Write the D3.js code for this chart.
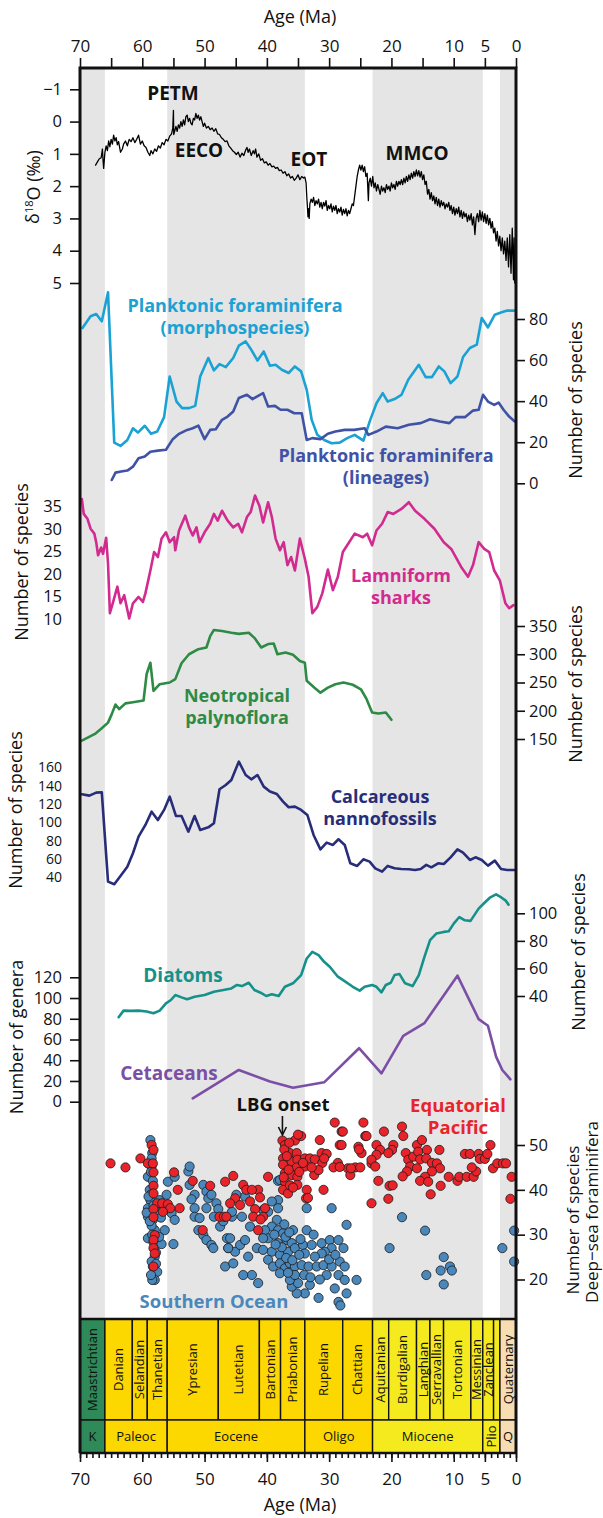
<!DOCTYPE html>
<html>
<head>
<meta charset="utf-8">
<script src="https://cdn.jsdelivr.net/npm/d3@7"></script>
<style>
  body { margin: 0; background: #fff; }
  svg { display: block; font-family: "Open Sans", sans-serif; }
</style>
</head>
<body>
<div id="chart"></div>
<script>
// ---- data (age in Ma, value) ----
const d18O = [[67.5,1.35],[67.2,1.25],[66.9,1.15],[66.6,1.12],[66.4,0.85],[66.3,1.2],[66.2,1.45],[66.0,0.95],[65.8,0.75],[65.6,0.9],[65.4,0.6],[65.2,0.78],[65.0,0.55],[64.8,0.7],[64.6,0.42],[64.4,0.6],[64.2,0.5],[64.0,0.72],[63.8,0.62],[63.5,0.95],[63.2,0.85],[63.0,0.7],[62.7,0.6],[62.4,0.75],[62.1,0.55],[61.8,0.62],[61.5,0.5],[61.2,0.65],[60.9,0.55],[60.6,0.42],[60.3,0.7],[60.0,0.6],[59.7,0.75],[59.4,0.8],[59.1,0.95],[58.8,1.05],[58.6,0.9],[58.3,1.0],[58.0,0.85],[57.7,0.92],[57.4,0.75],[57.1,0.82],[56.8,0.65],[56.5,0.72],[56.2,0.55],[55.9,0.6],[55.6,0.45],[55.3,0.38],[55.1,0.2],[55.0,-0.35],[54.95,0.4],[54.8,0.3],[54.6,0.15],[54.4,0.3],[54.2,0.1],[54.0,0.2],[53.8,0.0],[53.6,0.15],[53.4,-0.05],[53.2,0.1],[53.0,-0.15],[52.8,-0.2],[52.6,0.0],[52.4,-0.1],[52.2,0.05],[52.0,0.1],[51.8,-0.1],[51.6,-0.05],[51.4,-0.25],[51.2,-0.1],[51.0,-0.2],[50.8,-0.05],[50.6,-0.15],[50.4,0.0],[50.2,0.15],[50.0,0.05],[49.7,0.2],[49.4,0.15],[49.1,0.25],[48.8,0.2],[48.5,0.3],[48.2,0.22],[47.9,0.38],[47.6,0.4],[47.3,0.5],[47.0,0.55],[46.7,0.62],[46.4,0.6],[46.1,0.75],[45.8,0.82],[45.5,0.9],[45.2,0.95],[44.9,1.02],[44.6,0.95],[44.3,1.1],[44.0,0.98],[43.7,1.05],[43.4,0.88],[43.2,0.8],[43.0,0.95],[42.8,0.85],[42.5,1.05],[42.2,0.9],[42.0,1.0],[41.8,0.85],[41.6,1.1],[41.3,1.0],[41.0,1.2],[40.7,1.15],[40.4,1.28],[40.1,1.25],[39.8,1.35],[39.5,1.3],[39.2,1.4],[38.9,1.38],[38.6,1.45],[38.3,1.42],[38.0,1.52],[37.7,1.5],[37.4,1.6],[37.1,1.55],[36.8,1.68],[36.5,1.62],[36.2,1.75],[35.9,1.7],[35.6,1.82],[35.3,1.75],[35.0,1.65],[34.7,1.8],[34.4,1.7],[34.1,1.75],[33.9,1.72],[33.7,1.9],[33.6,2.3],[33.5,2.6],[33.4,2.95],[33.3,2.7],[33.2,3.0],[33.1,2.55],[32.9,2.4],[32.7,2.5],[32.5,2.35],[32.3,2.6],[32.1,2.45],[31.9,2.55],[31.7,2.4],[31.5,2.65],[31.3,2.5],[31.1,2.7],[30.9,2.5],[30.7,2.62],[30.5,2.45],[30.3,2.75],[30.1,2.6],[29.9,2.7],[29.7,2.55],[29.5,2.8],[29.3,2.62],[29.1,2.75],[28.9,2.6],[28.7,2.85],[28.5,2.7],[28.3,2.8],[28.1,2.65],[27.9,2.9],[27.7,2.72],[27.5,2.85],[27.3,2.7],[27.1,2.92],[26.9,2.75],[26.7,2.85],[26.5,2.7],[26.3,2.55],[26.1,2.6],[25.9,2.3],[25.7,2.0],[25.5,1.7],[25.3,1.5],[25.1,1.35],[24.9,1.5],[24.7,1.35],[24.5,1.55],[24.3,1.4],[24.1,1.7],[23.9,1.6],[23.7,2.45],[23.6,1.9],[23.4,1.75],[23.2,2.0],[23.0,1.7],[22.8,2.05],[22.6,1.9],[22.4,2.15],[22.2,1.95],[22.0,2.1],[21.8,2.25],[21.6,2.0],[21.4,2.15],[21.2,2.05],[21.0,2.2],[20.8,1.95],[20.6,2.1],[20.4,2.0],[20.2,2.15],[20.0,1.9],[19.8,2.05],[19.6,1.95],[19.4,2.1],[19.2,1.85],[19.0,2.0],[18.8,1.85],[18.6,1.95],[18.4,1.8],[18.2,1.95],[18.0,1.75],[17.8,1.9],[17.6,1.7],[17.4,1.85],[17.2,1.65],[17.0,1.8],[16.8,1.6],[16.6,1.75],[16.4,1.55],[16.2,1.7],[16.0,1.5],[15.8,1.68],[15.6,1.52],[15.4,1.72],[15.2,1.55],[15.0,1.8],[14.8,1.65],[14.6,1.95],[14.4,1.85],[14.2,2.25],[14.0,2.1],[13.8,2.4],[13.6,2.2],[13.4,2.45],[13.2,2.3],[13.0,2.55],[12.8,2.35],[12.6,2.6],[12.4,2.4],[12.2,2.65],[12.0,2.45],[11.8,2.6],[11.6,2.5],[11.4,2.7],[11.2,2.55],[11.0,2.65],[10.8,2.5],[10.6,2.75],[10.4,2.6],[10.2,2.85],[10.0,2.65],[9.8,2.9],[9.6,2.7],[9.4,2.85],[9.2,2.65],[9.0,2.95],[8.8,2.75],[8.6,3.0],[8.4,2.8],[8.2,2.95],[8.0,2.85],[7.8,3.1],[7.6,2.9],[7.4,3.05],[7.2,2.85],[7.0,3.2],[6.8,2.95],[6.6,3.5],[6.4,3.0],[6.2,2.85],[6.0,3.1],[5.8,2.75],[5.6,3.05],[5.4,2.8],[5.2,3.1],[5.0,2.85],[4.8,3.15],[4.6,2.9],[4.4,3.2],[4.2,3.0],[4.0,3.3],[3.8,3.1],[3.6,3.45],[3.4,3.3],[3.2,3.7],[3.0,3.4],[2.8,3.85],[2.6,3.55],[2.4,4.0],[2.2,3.6],[2.0,4.1],[1.8,3.7],[1.6,4.3],[1.4,3.6],[1.2,4.5],[1.0,3.5],[0.8,4.7],[0.6,3.3],[0.4,4.9],[0.3,3.6],[0.2,5.0],[0.1,4.0],[0.05,5.05]];

const foramMorpho = [[69.6,75.6],[68.3,81.3],[67.4,82.4],[66.5,78.9],[65.5,93],[64.5,19.8],[63.5,18.2],[62.4,21.1],[61.5,26.8],[60.7,24.7],[59.6,28],[58.6,24.1],[57.6,25.2],[56.5,32.2],[55.6,52],[54.5,39.8],[53.6,36.6],[52.5,36.6],[51.5,37.7],[50.7,52],[49.4,61],[48.5,55],[47.6,58],[46.6,56.6],[45.4,61],[44.5,67],[43.4,69.1],[42.5,65],[41.5,59.8],[40.5,64.2],[39.5,57.2],[38.6,57.7],[37.6,55.3],[36.5,53.7],[35.5,56.9],[34.5,54.5],[33.6,45.5],[32.8,30.9],[31.9,23.6],[30.8,21.1],[29.6,19.5],[28.3,19.8],[27.1,22],[25.9,23.6],[24.5,20.8],[23.4,30.9],[22.4,39],[21.4,43.9],[20.6,39.8],[19.5,41],[18.4,43],[17.3,50.4],[15.6,57.7],[14.5,51.7],[13.5,51.7],[12.4,56.9],[11.5,54.5],[10.5,48.8],[9.4,52],[8.5,61.5],[7.4,65.9],[6.3,67.5],[5.5,80.5],[4.5,75.9],[3.4,82.1],[2.3,83.3],[1.4,84.1],[0.1,84.1]];

const foramLineages = [[64.9,1.6],[64.3,5.2],[63.4,5.7],[62.4,6.2],[61.5,8.1],[60.6,12.2],[59.6,13],[58.7,15.4],[57.5,15.9],[56.2,16.3],[55.1,21.5],[54.1,24.1],[52.8,26],[51.9,26.8],[51.0,28.1],[50.0,21.5],[49.1,26],[48.2,26.3],[47.2,30.9],[46.3,32.5],[45.4,35],[44.5,41.5],[43.2,43.1],[42.3,41],[41.4,42.6],[40.6,43.9],[39.8,37.4],[38.7,37.7],[37.8,35.8],[36.7,35.8],[35.6,34.1],[34.4,34.1],[33.6,21.1],[32.7,22],[31.4,21.5],[30.2,24.1],[29.0,25.2],[27.5,26],[26.0,26],[24.3,26.8],[23.7,23.6],[22.4,25.2],[20.9,27.6],[19.0,26.8],[17.2,28.5],[15.3,29.3],[13.8,31.2],[12.2,30.1],[10.7,29.3],[9.7,32.2],[8.2,32.2],[6.9,35.4],[6.0,35.8],[5.3,43.1],[4.5,39.8],[3.5,38.2],[2.8,39.3],[2.0,35.8],[1.1,32.5],[0.2,30.1]];

const sharks = [[69.7,36.7],[69.4,33.4],[68.8,32.3],[68.3,30.1],[67.7,29],[67.4,27.1],[67.1,24.2],[66.6,25.9],[66.3,24.5],[65.8,28.1],[65.5,22.3],[65.2,11.3],[64.6,14.2],[64.0,17.2],[63.5,13.5],[62.9,15.3],[62.1,10.1],[61.5,13.5],[60.6,14.9],[59.9,13.8],[59.5,15.7],[58.7,20.8],[58.1,24.9],[57.5,23.8],[56.9,27.9],[56.2,29.3],[55.6,27.1],[54.9,28.2],[54.7,25.3],[54.1,29.7],[53.1,33],[52.5,30.4],[51.9,28.6],[51.3,30.4],[50.8,27.1],[50.0,29.3],[49.1,31.2],[48.5,33.4],[47.9,31.9],[47.2,34.1],[46.3,31.9],[45.4,30.4],[44.6,31.2],[44.0,29.3],[43.2,32.7],[42.6,33.8],[41.9,37.5],[41.2,35.2],[40.6,31.5],[39.8,36],[39.2,32.7],[38.6,27.9],[37.9,25.3],[37.3,27.1],[36.7,22],[36.1,23.8],[35.5,20.8],[34.7,27.9],[33.9,23.4],[33.3,19.4],[32.7,11.3],[31.9,12.7],[31.1,15.7],[30.2,21],[29.4,16.4],[28.6,19.4],[27.8,24.9],[27.1,26.4],[25.9,29],[24.6,28.2],[23.9,29],[23.1,26.4],[22.4,29.7],[21.5,31.2],[20.6,33.8],[19.7,33.4],[18.4,34.5],[17.2,36],[16.2,34.1],[14.7,32.3],[13.1,30.1],[11.6,27.1],[10.4,25.6],[8.8,21.6],[7.7,19.4],[6.9,22],[6.0,27.1],[5.1,25.6],[4.3,24.9],[3.5,20.8],[2.6,18.6],[1.7,13.5],[1.1,12.4],[0.4,13.1]];

const palynoflora = [[69.7,147],[67.6,159],[66.6,168],[65.5,179],[64.9,194],[64.3,211],[63.7,203],[62.7,213],[61.5,215],[59.8,218],[59.3,265],[58.7,285],[58.2,235],[57.2,247],[55.6,250],[54.7,256],[53.7,284],[52.5,300],[51.0,309],[49.7,312],[49.1,332],[48.5,343],[47.2,341],[45.7,338],[44.5,336],[42.9,338],[42.0,329],[40.9,312],[39.8,318],[38.9,319],[38.3,300],[37.0,303],[35.8,299],[34.7,288],[33.9,285],[33.6,253],[32.4,241],[31.4,232],[30.2,241],[29.0,247],[27.7,250],[26.2,246],[24.9,238],[24.0,221],[23.1,197],[22.1,195],[20.9,197],[20.0,184]];

const nannofossils = [[69.7,130.5],[68.5,129.1],[67.4,132.4],[66.5,132.7],[65.5,35.3],[64.5,32.4],[63.5,41.5],[62.4,51.6],[61.5,66.2],[60.6,84.4],[59.5,97.1],[58.5,111.6],[57.5,102.5],[56.5,113.5],[55.6,128],[54.6,106.9],[53.7,106.9],[52.6,89.8],[51.6,106.9],[50.7,91.6],[49.4,94.5],[48.5,98.9],[47.6,136],[46.6,140.7],[45.7,146.2],[44.5,166.2],[43.4,151.6],[42.5,146.9],[41.5,151.6],[40.5,138.9],[39.5,133.5],[38.4,130.9],[37.4,122.5],[36.5,116.4],[35.5,117.1],[34.5,113.5],[33.5,108],[32.5,86.2],[31.4,70.5],[30.4,77.8],[29.4,75.3],[28.5,81.5],[27.5,75.3],[26.6,55.3],[25.5,52.4],[24.5,59.6],[23.5,57.1],[22.6,49.8],[21.5,46.2],[20.6,52.4],[19.5,49.8],[18.4,49.1],[17.2,48.7],[16.2,48],[15.3,49.1],[14.4,53.5],[13.6,50.9],[12.5,55.3],[11.6,54.5],[10.5,61.8],[9.4,70.5],[8.5,66.9],[7.4,58.9],[6.5,61.8],[5.5,58.9],[4.5,52.7],[3.4,58.2],[2.4,49.1],[1.4,48],[0.2,48]];

const diatoms = [[63.8,24.6],[63.0,29.4],[61.8,29.2],[60.6,29.4],[59.3,28.7],[58.2,27.5],[57.2,29.4],[56.2,34.7],[55.4,37.1],[54.7,40.7],[53.7,39],[52.8,37.6],[51.6,39.5],[50.0,40.7],[48.5,43.1],[47.0,44.3],[45.7,45.5],[44.8,48],[44.0,47.2],[42.9,49.6],[42.0,44.3],[41.0,42.4],[40.1,40],[39.2,41.2],[38.1,40],[37.1,46.7],[35.8,49.2],[34.5,55.2],[33.6,67.2],[32.7,72],[31.7,69.6],[30.8,64.8],[29.9,61.2],[28.6,54],[27.4,50.4],[26.2,46.7],[25.1,43.9],[24.3,46.7],[23.1,48],[22.4,46.7],[21.6,42.7],[20.9,48],[20.1,49.6],[19.5,55.2],[18.7,55.9],[17.8,49.2],[16.6,47.2],[15.6,55.2],[14.7,68.4],[13.8,80.5],[12.8,85.3],[11.6,86.5],[10.8,87],[10.0,92.5],[9.1,97.3],[8.2,94.9],[7.3,94.5],[6.0,103.4],[5.1,107.5],[4.2,111.3],[3.2,113.7],[2.3,111.3],[1.7,109.4],[1.2,106.3]];

const cetaceans = [[51.9,3.2],[44.5,30.6],[39.5,19.4],[35.8,13.5],[30.8,18.7],[25.2,51.6],[21.6,27.4],[18.1,63.5],[14.7,75.8],[9.4,121.6],[6.0,79.7],[4.5,73.2],[3.2,43.5],[2.2,30.6],[0.9,21.6]];

const southernOcean = [[58.7,51.1],[58.4,48.2],[58.5,45.2],[59.1,42.9],[58.8,40],[58.7,37.7],[59.1,35.9],[59.1,34],[58.3,33.3],[58.0,31],[59.1,29.2],[58.0,27.3],[58.0,25.1],[58.3,22.9],[57.6,21.7],[58.0,19.9],[58.4,19.9],[58.5,47],[58.6,44],[58.3,42],[58.6,39],[58.2,36.5],[58.5,32],[58.4,30],[58.2,28.3],[57.8,26],[58.5,24],[57.8,23.5],[58.6,21],[59.0,38.5],[59.3,34.9],[58.8,33],
  [57.2,37.7],[56.9,36.6],[56.1,38.9],[55.9,41.8],[54.8,42.9],[55.3,34.8],[54.8,33.3],[56.4,31],[55.0,27.9],[56.9,27.9],[57.5,35],[56.5,35.5],[55.8,36.2],[57.0,33.8],[57.3,29.5],
  [52.6,44.1],[52.4,45.2],[52.4,41.1],[51.6,38.9],[52.1,37.9],[51.6,35.9],[51.6,34],[50.8,33.7],[51.0,31],[50.2,29.9],[49.7,28.8],[48.9,27.7],[48.6,27],[50.2,41.1],[49.7,39.6],[49.4,38.1],[48.9,38.9],[49.7,35.9],[48.1,37],[47.8,35.7],[47.5,31.8],[46.4,29.2],[46.2,27],[46.7,22.9],[48.5,34],[47.0,33],
  [38.2,42],[37.9,42.2],[38.2,37.7],[39.2,37.4],[39.8,35.1],[38.4,33.3],[39.2,31.8],[40.3,31],[39.8,29.2],[38.2,31],[37.4,30.3],[35.8,31],[40.6,29.2],[38.2,28.1],[36.8,28.8],[36.0,28.1],[41.6,27],[40.6,26.6],[39.2,26.2],[37.9,25.5],[36.6,26.2],[35.5,27],[34.2,27.7],[33.9,25.8],[32.8,27.7],[31.2,28.1],[29.9,28.8],[28.5,28.8],[29.6,27],[30.7,26.2],[31.2,25.8],[32.3,25.1],[27.7,27],[27.2,32.2],[29.6,35.9],[33.6,35.9],[33.6,31],[39.8,24.4],[39.0,22.9],[37.9,23.6],[37.1,22.5],[36.3,23.6],[35.5,22.9],[34.4,23.2],[33.3,22.9],[32.0,22.9],[30.9,23.2],[29.6,22.9],[28.3,24],[27.5,22.9],[30.4,21],[28.5,21],[25.6,19.9],[27.5,19.9],[29.1,18],[27.2,16.9],[28.5,15],[28.2,14.2],[31.7,15.9],[33.9,16.9],[35.2,16.9],[36.0,18.4],[35.0,19.2],[33.1,18.8],[36.3,19.9],[37.9,21.4],[35.5,21],[34.0,21],[41.4,19.2],[42.4,21],[43.8,21],[45.4,23.6],[43.0,25.1],[45.1,26.2],[46.2,27],[44.3,27.7],[45.9,29.2],[43.5,28.8],[42.7,31.8],[45.6,34],[44.0,34],[45.6,35.1],[40.6,35.5],[43.5,38.5],[44.9,38.9],[38.2,35.9],[38.8,30],[37.0,29.5],[36.4,30.5],[37.6,27.2],[36.9,24.8],[35.9,24.3],[34.8,25.5],[38.6,27.8],[37.2,32.3],[36.6,21.5],[33.0,20.5],[31.5,20],[30.0,24.5],[29.0,25.5],[32.5,30],[34.6,29],
  [18.3,33.9],[14.6,30.9],[20.3,27],[11.6,25],[10.6,22.9],[10.3,22],[12.1,22],[14.4,21],[11.6,18.9],[2.2,27],[0.3,30.9],[0.3,24]];

const equatorialPacific = [[65.1,45.9],[62.7,45],[60.3,47],[59.1,45.9],[58.5,50],[58.2,48.9],[58.3,45.9],[58.2,43.9],[58.2,40.9],[58.2,39.2],[57.6,37],[56.8,37],[55.9,36.8],[54.9,43.9],[54.3,40],[54.0,35.9],[55.5,35.9],[56.7,35.1],[58.2,35.7],[58.2,33.9],[58.0,29.9],[58.2,28.8],[58.2,27],[58.0,25.8],[58.2,22.9],[51.9,42],[49.1,40.9],[50.3,31],[47.6,34],[46.9,34],
  [37.5,51],[37.1,50],[35.5,51],[34.5,52],[36.3,48.2],[35.2,48.2],[37.4,47],[37.4,45.6],[36.0,46.3],[35.1,46.7],[33.9,47],[33.1,47],[32.3,46.8],[31.2,48.2],[30.4,48],[31.1,46],[33.9,45.2],[35.2,45],[37.1,43.7],[36.0,43.3],[35.1,42.9],[37.1,41.8],[35.1,41.1],[33.6,40],[37.4,40],[36.6,39.2],[33.7,38.1],[32.4,43.3],[31.7,44.4],[28.6,46],[29.3,45],[39.8,42.9],[45.4,43.1],[46.7,41.8],[43.8,41.1],[43.3,40],[41.4,40],[42.4,40],[41.1,38.3],[45.1,38.1],[45.9,37],[44.3,36.6],[42.7,37.4],[41.9,35.7],[40.3,35.9],[42.2,34],[40.6,34],[41.0,33.4],[41.4,31],[46.5,34],[28.0,53],[29.1,55],[24.5,55],[24.2,52],[25.3,49.6],[24.8,48.2],[28.3,50],[27.0,44.8],[26.6,43.3],[25.8,45],[25.0,45],[23.2,45.9],[23.2,37],[37.2,49],[36.8,47.5],[36.5,44.5],[37.3,42.8],[36.3,41],[35.8,40.5],[34.8,44],[34.2,46],[32.8,45],[30.8,47],[36.4,50.5],[35.0,52.3],[31.5,51.1],[27.8,53],[28.0,50],[24.0,52],[25.2,49],[26.5,44.8],[28.3,45.1],[30.9,40],[33.4,38.2],
  [18.3,54.1],[21.2,53],[18.1,52],[22.4,50],[21.8,48.9],[19.7,50],[19.9,48.9],[20.5,48.2],[22.4,47.8],[23.2,46.7],[22.6,45.2],[22.1,42],[20.3,40.9],[20.5,38],[19.8,41],[17.7,48.2],[17.3,46.7],[16.5,47.4],[15.9,50],[15.1,51.1],[15.7,48.5],[17.0,45.2],[17.5,44.1],[18.2,43],[15.4,46.8],[14.3,48.9],[14.4,47],[13.5,46],[12.7,45.9],[12.3,48.9],[12.2,44.8],[13.5,44.1],[15.9,44.8],[14.6,42.9],[15.4,42],[14.1,41.8],[12.1,40.9],[13.7,39],[10.8,42.9],[9.4,42],[9.1,42.9],[7.9,42.9],[6.8,42.9],[6.4,44.1],[7.1,45],[8.2,48],[7.4,48],[6.0,48],[5.8,46.9],[5.0,46.9],[4.6,48],[4.1,50],[3.7,44.8],[3.0,45.9],[2.1,45.9],[1.6,45.9],[0.7,42.9],[0.9,38]];

// ---- geologic timescale ----
const stageNames = ['Maastrichtian','Danian','Selandian','Thanetian','Ypresian','Lutetian','Bartonian','Priabonian','Rupelian','Chattian','Aquitanian','Burdigalian','Langhian','Serravallian','Tortonian','Messinian','Zanclean','','Quaternary'];
const stageBounds = [70,66,61.6,59.2,56,47.8,41.2,37.8,33.9,27.82,23.03,20.44,15.97,13.82,11.63,7.246,5.333,3.6,2.58,0];
const epochNames = ['K','Paleoc','Eocene','Oligo','Miocene','Plio','Q'];
const epochBounds = [70,66,56,33.9,23.03,5.333,2.58,0];
const shadedBands = [[70,66],[56,33.9],[23.03,5.333],[2.58,0]];

// ---- ticks ----
const ageTicks = [70,60,50,40,30,20,10,5,0];
const d18OTicks = [-1,0,1,2,3,4,5];
const foramTicks = [0,20,40,60,80];
const sharkTicks = [10,15,20,25,30,35];
const palynoTicks = [150,200,250,300,350];
const nannoTicks = [40,60,80,100,120,140,160];
const diatomTicks = [40,60,80,100];
const cetaceanTicks = [0,20,40,60,80,100,120];
const deepSeaTicks = [20,30,40,50];

// ---- layout ----
const W = 603, H = 1518;
const plotL = 80, plotR = 516, plotT = 68;
const tsTop = 1319, tsMid = 1420, tsBot = 1453;
const font = '"Open Sans", sans-serif';
const ink = '#111';

const x = d3.scaleLinear().domain([70, 0]).range([plotL, plotR]);

const yD18O = d3.scaleLinear().domain([-1, 5]).range([89.3, 283]);
const yForam = d3.scaleLinear().domain([0, 80]).range([483.3, 319]);
const yShark = d3.scaleLinear().domain([10, 35]).range([619, 506.7]);
const yPaly = d3.scaleLinear().domain([150, 350]).range([739, 626]);
const yNanno = d3.scaleLinear().domain([40, 160]).range([877.3, 767.3]);
const yDiatom = d3.scaleLinear().domain([40, 100]).range([996, 913.3]);
const yCet = d3.scaleLinear().domain([0, 120]).range([1101.7, 977.3]);
const yDeep = d3.scaleLinear().domain([20, 50]).range([1279.5, 1145]);

const svg = d3.select('#chart').append('svg')
  .attr('width', W)
  .attr('height', H);

svg.append('rect').attr('width', W).attr('height', H).attr('fill', '#fff');

// grey bands
svg.append('g').selectAll('rect')
  .data(shadedBands)
  .enter().append('rect')
  .attr('x', d => x(d[0]))
  .attr('width', d => x(d[1]) - x(d[0]))
  .attr('y', plotT)
  .attr('height', tsTop - plotT)
  .attr('fill', '#e5e5e5');

function drawLine(data, y, color, w) {
  const line = d3.line()
    .x(d => x(d[0]))
    .y(d => y(d[1]));
  svg.append('path')
    .datum(data)
    .attr('d', line)
    .attr('fill', 'none')
    .attr('stroke', color)
    .attr('stroke-width', w)
    .attr('stroke-linejoin', 'round')
    .attr('stroke-linecap', 'round');
}

drawLine(d18O, yD18O, '#000', 1.3);
drawLine(foramMorpho, yForam, '#1ba2d4', 2.6);
drawLine(foramLineages, yForam, '#3f52a5', 2.6);
drawLine(sharks, yShark, '#d22b8f', 2.6);
drawLine(palynoflora, yPaly, '#2e8b45', 2.6);
drawLine(nannofossils, yNanno, '#272d78', 2.6);
drawLine(diatoms, yDiatom, '#16918a', 2.6);
drawLine(cetaceans, yCet, '#7c4fa6', 2.6);

// deep-sea foraminifera
function drawDots(data, color) {
  svg.append('g').selectAll('circle')
    .data(data)
    .enter().append('circle')
    .attr('cx', d => x(d[0]))
    .attr('cy', d => yDeep(d[1]))
    .attr('r', 4.6)
    .attr('fill', color)
    .attr('stroke', '#1a1a1a')
    .attr('stroke-width', 0.8);
}
drawDots(southernOcean, '#4a87bb');
drawDots(equatorialPacific, '#e8242a');

// series labels
function label(lines, cx, y0, color, size) {
  const t = svg.append('text')
    .attr('x', cx).attr('y', y0)
    .attr('text-anchor', 'middle')
    .attr('font-weight', 'bold')
    .attr('font-size', size || 18)
    .attr('fill', color);
  lines.forEach((s, i) => {
    t.append('tspan').attr('x', cx).attr('dy', i ? 22 : 0).text(s);
  });
}
label(['PETM'], 173, 100, ink, 19);
label(['EECO'], 199, 157, ink, 19);
label(['EOT'], 309, 166, ink, 19);
label(['MMCO'], 417, 160, ink, 19);
label(['Planktonic foraminifera', '(morphospecies)'], 235, 312, '#1ba2d4');
label(['Planktonic foraminifera', '(lineages)'], 386, 462, '#3f52a5');
label(['Lamniform', 'sharks'], 401, 582, '#d22b8f');
label(['Neotropical', 'palynoflora'], 237, 702, '#2e8b45');
label(['Calcareous', 'nannofossils'], 380, 803, '#272d78');
label(['Diatoms'], 183, 982, '#16918a', 19);
label(['Cetaceans'], 169, 1080, '#7c4fa6', 19);
label(['LBG onset'], 283, 1111, ink, 18.5);
label(['Equatorial', 'Pacific'], 458, 1112, '#e8242a', 18.5);
label(['Southern Ocean'], 214, 1308, '#4a87bb', 18.5);

// LBG arrow
svg.append('line')
  .attr('x1', x(37.5)).attr('x2', x(37.5))
  .attr('y1', 1116).attr('y2', 1133)
  .attr('stroke', ink).attr('stroke-width', 1.6);
svg.append('path')
  .attr('d', `M${x(37.5) - 4},1127 L${x(37.5)},1135 L${x(37.5) + 4},1127`)
  .attr('fill', 'none').attr('stroke', ink).attr('stroke-width', 1.6);

// timescale
const stages = stageNames.map((n, i) => ({ name: n, a: stageBounds[i], b: stageBounds[i + 1] }));
const epochs = epochNames.map((n, i) => ({ name: n, a: epochBounds[i], b: epochBounds[i + 1] }));
function tsColor(d) {
  if (d.a > 66) return '#2e8a58';
  if (d.b >= 23) return '#fdd700';
  if (d.b >= 2.5) return '#f5ea1e';
  return '#f8dcb2';
}
const ts = svg.append('g');
ts.selectAll('.stage').data(stages).enter().append('rect')
  .attr('x', d => x(d.a)).attr('width', d => x(d.b) - x(d.a))
  .attr('y', tsTop).attr('height', tsMid - tsTop)
  .attr('fill', tsColor).attr('stroke', ink).attr('stroke-width', 1.4);
ts.selectAll('.epoch').data(epochs).enter().append('rect')
  .attr('x', d => x(d.a)).attr('width', d => x(d.b) - x(d.a))
  .attr('y', tsMid).attr('height', tsBot - tsMid)
  .attr('fill', tsColor).attr('stroke', ink).attr('stroke-width', 1.4);
ts.selectAll('.stageLabel').data(stages.filter(d => d.name)).enter().append('text')
  .attr('transform', d => `translate(${(x(d.a) + x(d.b)) / 2},${(tsTop + tsMid) / 2}) rotate(-90)`)
  .attr('text-anchor', 'middle').attr('dy', '0.35em')
  .attr('font-size', 13).attr('fill', ink)
  .text(d => d.name);
ts.selectAll('.epochLabel').data(epochs).enter().append('text')
  .attr('transform', d => `translate(${(x(d.a) + x(d.b)) / 2},${(tsMid + tsBot) / 2})` + (d.name === 'Plio' ? ' rotate(-90)' : ''))
  .attr('text-anchor', 'middle').attr('dy', '0.35em')
  .attr('font-size', 13).attr('fill', ink)
  .text(d => d.name);

// frame
const frame = svg.append('g').attr('stroke', ink).attr('stroke-width', 3).attr('fill', 'none');
frame.append('path').attr('d', `M${plotL},${tsBot} V${plotT} H${plotR} V${tsBot}`);
frame.append('line').attr('x1', plotL).attr('x2', plotR).attr('y1', tsTop).attr('y2', tsTop).attr('stroke-width', 2.4);
frame.append('line').attr('x1', plotL).attr('x2', plotR).attr('y1', tsBot).attr('y2', tsBot).attr('stroke-width', 2.4);

// axes
function styleAxis(g, size) {
  g.select('.domain').remove();
  g.attr('font-family', font).attr('font-size', size || 16.5);
  g.selectAll('text').attr('fill', ink);
  g.selectAll('line').attr('stroke', ink).attr('stroke-width', 1.6);
}
const topAxis = d3.axisTop(x).tickValues(d3.range(0, 71, 5))
  .tickFormat(d => ageTicks.includes(d) ? d : '').tickSize(10).tickPadding(6);
svg.append('g').attr('transform', `translate(0,${plotT})`).call(topAxis).call(styleAxis, 17);

const botMinor = d3.axisBottom(x).tickValues(d3.range(0, 71, 1)).tickFormat('').tickSize(5);
svg.append('g').attr('transform', `translate(0,${tsBot})`).call(botMinor).call(styleAxis);
const botAxis = d3.axisBottom(x).tickValues(ageTicks).tickSize(9).tickPadding(11);
svg.append('g').attr('transform', `translate(0,${tsBot})`).call(botAxis).call(styleAxis, 17);

function yAxis(scale, ticks, side, size, pad, fs) {
  const ax = (side === 'left' ? d3.axisLeft(scale) : d3.axisRight(scale))
    .tickValues(ticks).tickSize(size).tickPadding(pad).tickFormat(d3.format('d'));
  svg.append('g').attr('transform', `translate(${side === 'left' ? plotL : plotR},0)`)
    .call(ax).call(styleAxis, fs);
}
yAxis(yD18O, d18OTicks, 'left', 10, 8);
yAxis(yShark, sharkTicks, 'left', 0, 18);
yAxis(yNanno, nannoTicks, 'left', 0, 18, 14);
yAxis(yCet, cetaceanTicks, 'left', 10, 8);
yAxis(yForam, foramTicks, 'right', 9, 4);
yAxis(yPaly, palynoTicks, 'right', 9, 4);
yAxis(yDiatom, diatomTicks, 'right', 9, 4);
yAxis(yDeep, deepSeaTicks, 'right', 9, 4);

// axis titles
function title(text, cx, cy, rot, fs) {
  return svg.append('text')
    .attr('transform', `translate(${cx},${cy})` + (rot ? ' rotate(-90)' : ''))
    .attr('text-anchor', 'middle').attr('dy', '0.35em')
    .attr('font-size', fs || 18).attr('fill', ink)
    .text(text);
}
title('Age (Ma)', 300, 17, false);
title('Age (Ma)', 300, 1505, false);
const dT = svg.append('text')
  .attr('transform', 'translate(33,187) rotate(-90)')
  .attr('text-anchor', 'middle').attr('dy', '0.35em')
  .attr('font-size', 18).attr('fill', ink);
dT.append('tspan').text('δ');
dT.append('tspan').attr('font-size', 11).attr('dy', '-0.6em').text('18');
dT.append('tspan').attr('dy', '0.38em').text('O (‰)');
title('Number of species', 22, 562, true);
title('Number of species', 16, 810, true);
title('Number of genera', 17, 1037, true);
title('Number of species', 576, 400, true);
title('Number of species', 576, 684, true);
title('Number of species', 579, 952, true);
title('Number of species', 573, 1220, true, 17);
title('Deep\u2212sea foraminifera', 592, 1212, true, 17);
</script>
</body>
</html>
